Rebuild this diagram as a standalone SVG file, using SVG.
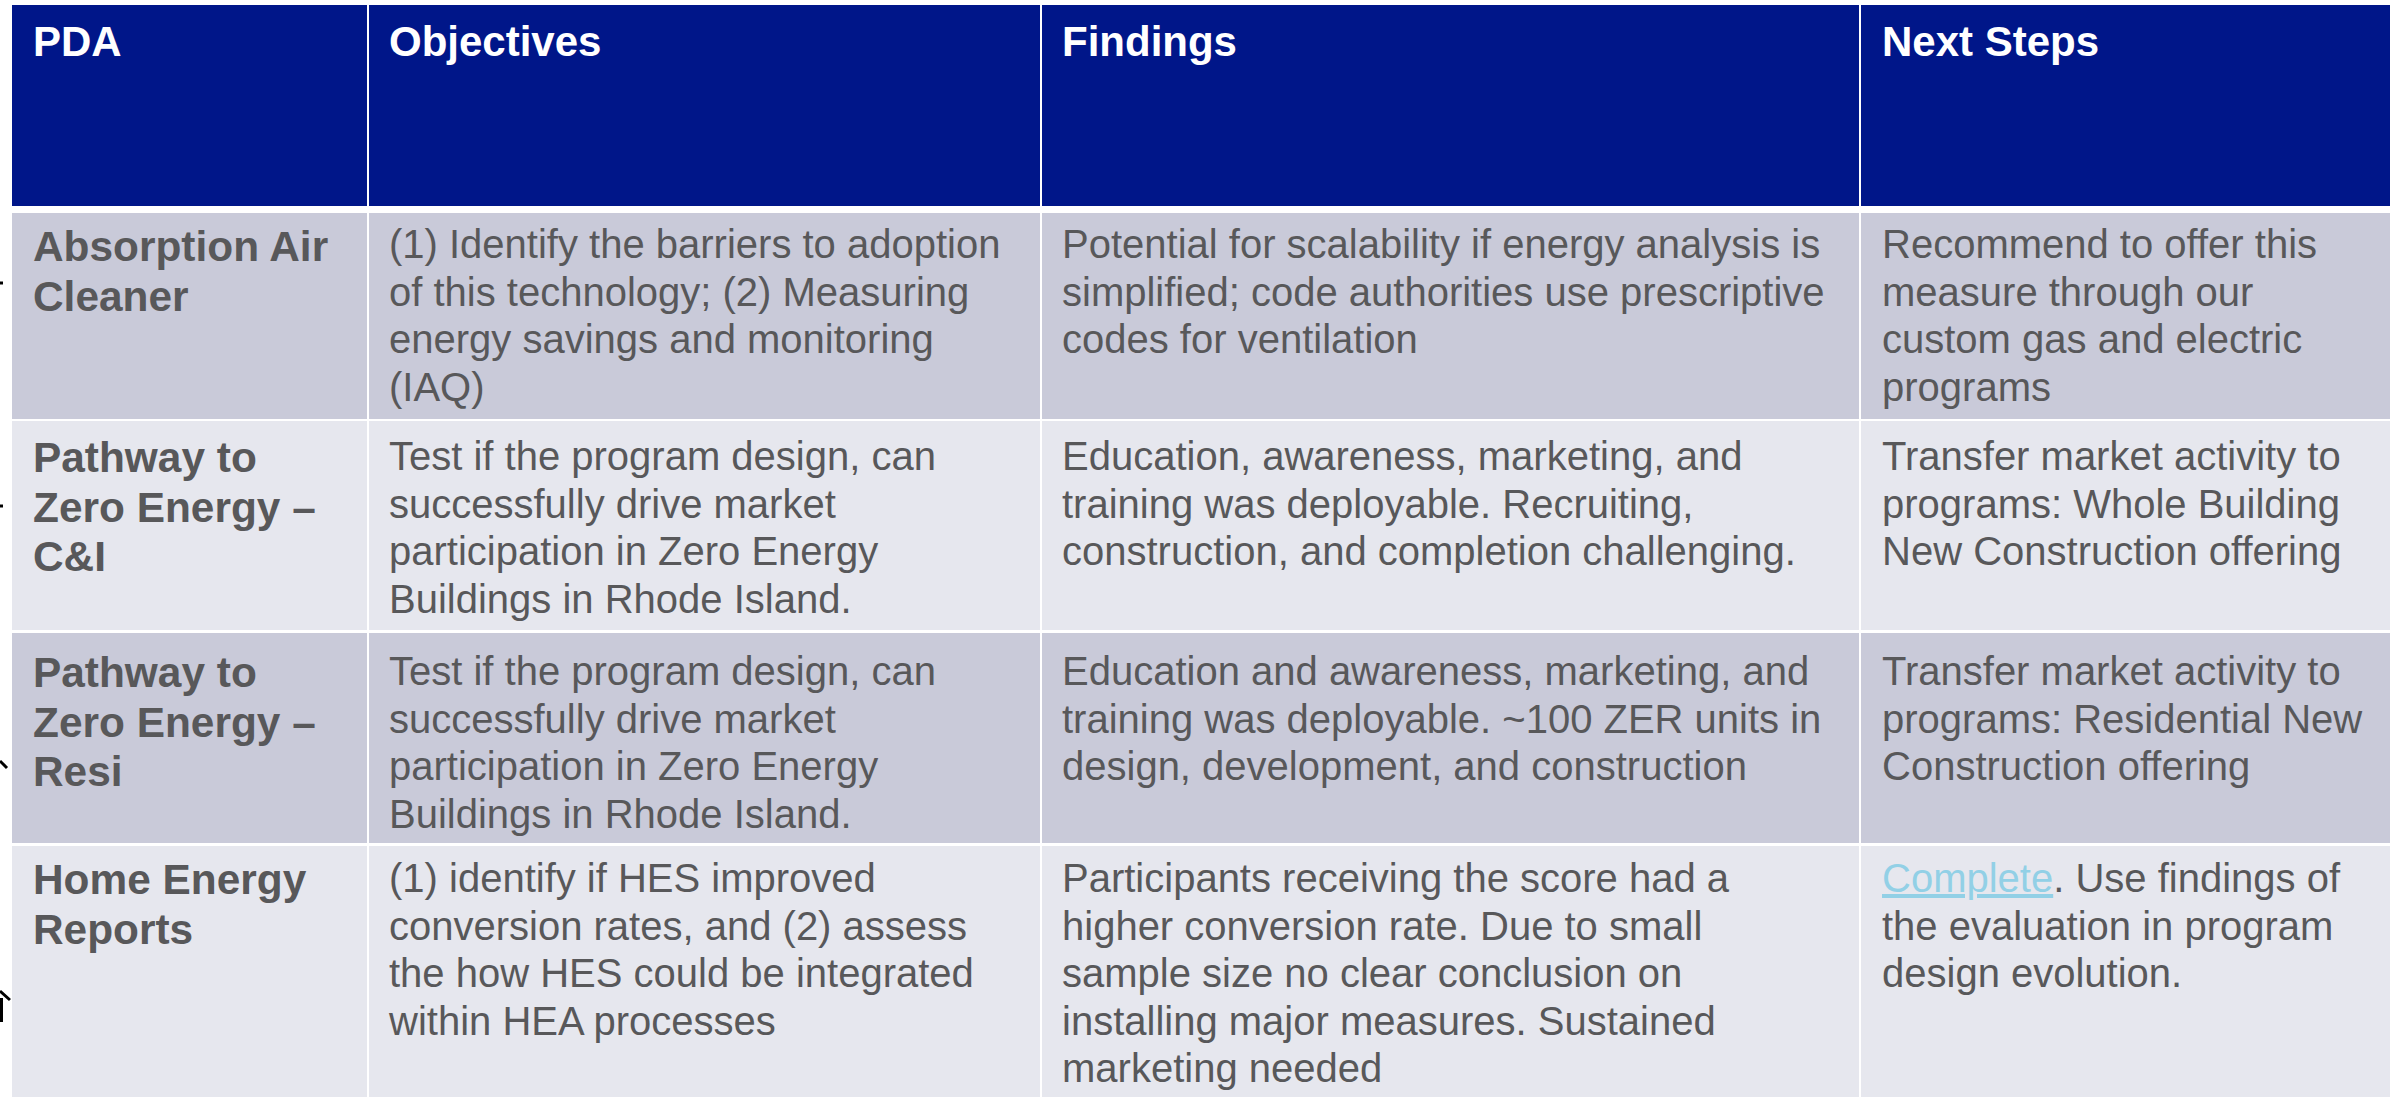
<svg xmlns="http://www.w3.org/2000/svg" width="2403" height="1097" viewBox="0 0 2403 1097">
<style>
.hdrbg{fill:#001689}
.odd{fill:#C9CAD9}
.even{fill:#E6E7EE}
.sep{fill:#FFFFFF}
.hdr{fill:#FFFFFF;font-family:"Liberation Sans",Arial,sans-serif;font-weight:bold;font-size:42px}
.lbl{fill:#58585A;font-family:"Liberation Sans",Arial,sans-serif;font-weight:bold;font-size:42.4px}
.txt{fill:#58585A;font-family:"Liberation Sans",Arial,sans-serif;font-size:40px}
.link{fill:#92D0E6;text-decoration:underline}
.mark{stroke:#000;stroke-width:3;fill:none}
</style>
<rect width="2403" height="1097" fill="#FFFFFF"/>
<g id="table-background">
<rect class="hdrbg" x="12" y="5" width="2378" height="201"/>
<rect class="odd" x="12" y="213" width="2378" height="206"/>
<rect class="even" x="12" y="421" width="2378" height="209"/>
<rect class="odd" x="12" y="633" width="2378" height="210"/>
<rect class="even" x="12" y="846" width="2378" height="251"/>
<rect class="sep" x="367" y="5" width="2" height="1092"/>
<rect class="sep" x="1040" y="5" width="2" height="1092"/>
<rect class="sep" x="1859" y="5" width="2" height="1092"/>
</g>
<g id="header">
<text class="hdr" x="33" y="56">PDA</text>
<text class="hdr" x="389" y="56">Objectives</text>
<text class="hdr" x="1062" y="56">Findings</text>
<text class="hdr" x="1882" y="56">Next Steps</text>
</g>
<g id="row-absorption-air-cleaner">
<text class="lbl" x="33" y="261"><tspan x="33">Absorption Air</tspan><tspan x="33" dy="49.5">Cleaner</tspan></text>
<text class="txt" x="389" y="258"><tspan x="389">(1) Identify the barriers to adoption</tspan><tspan x="389" dy="47.6">of this technology; (2) Measuring</tspan><tspan x="389" dy="47.6">energy savings and monitoring</tspan><tspan x="389" dy="47.6">(IAQ)</tspan></text>
<text class="txt" x="1062" y="258"><tspan x="1062">Potential for scalability if energy analysis is</tspan><tspan x="1062" dy="47.6">simplified; code authorities use prescriptive</tspan><tspan x="1062" dy="47.6">codes for ventilation</tspan></text>
<text class="txt" x="1882" y="258"><tspan x="1882">Recommend to offer this</tspan><tspan x="1882" dy="47.6">measure through our</tspan><tspan x="1882" dy="47.6">custom gas and electric</tspan><tspan x="1882" dy="47.6">programs</tspan></text>
</g>
<g id="row-pathway-ci">
<text class="lbl" x="33" y="472"><tspan x="33">Pathway to</tspan><tspan x="33" dy="49.5">Zero Energy –</tspan><tspan x="33" dy="49.5">C&amp;I</tspan></text>
<text class="txt" x="389" y="470"><tspan x="389">Test if the program design, can</tspan><tspan x="389" dy="47.6">successfully drive market</tspan><tspan x="389" dy="47.6">participation in Zero Energy</tspan><tspan x="389" dy="47.6">Buildings in Rhode Island.</tspan></text>
<text class="txt" x="1062" y="470"><tspan x="1062">Education, awareness, marketing, and</tspan><tspan x="1062" dy="47.6">training was deployable. Recruiting,</tspan><tspan x="1062" dy="47.6">construction, and completion challenging.</tspan></text>
<text class="txt" x="1882" y="470"><tspan x="1882">Transfer market activity to</tspan><tspan x="1882" dy="47.6">programs: Whole Building</tspan><tspan x="1882" dy="47.6">New Construction offering</tspan></text>
</g>
<g id="row-pathway-resi">
<text class="lbl" x="33" y="687"><tspan x="33">Pathway to</tspan><tspan x="33" dy="49.5">Zero Energy –</tspan><tspan x="33" dy="49.5">Resi</tspan></text>
<text class="txt" x="389" y="685"><tspan x="389">Test if the program design, can</tspan><tspan x="389" dy="47.6">successfully drive market</tspan><tspan x="389" dy="47.6">participation in Zero Energy</tspan><tspan x="389" dy="47.6">Buildings in Rhode Island.</tspan></text>
<text class="txt" x="1062" y="685"><tspan x="1062">Education and awareness, marketing, and</tspan><tspan x="1062" dy="47.6">training was deployable. ~100 ZER units in</tspan><tspan x="1062" dy="47.6">design, development, and construction</tspan></text>
<text class="txt" x="1882" y="685"><tspan x="1882">Transfer market activity to</tspan><tspan x="1882" dy="47.6">programs: Residential New</tspan><tspan x="1882" dy="47.6">Construction offering</tspan></text>
</g>
<g id="row-home-energy-reports">
<text class="lbl" x="33" y="894"><tspan x="33">Home Energy</tspan><tspan x="33" dy="49.5">Reports</tspan></text>
<text class="txt" x="389" y="892"><tspan x="389">(1) identify if HES improved</tspan><tspan x="389" dy="47.6">conversion rates, and (2) assess</tspan><tspan x="389" dy="47.6">the how HES could be integrated</tspan><tspan x="389" dy="47.6">within HEA processes</tspan></text>
<text class="txt" x="1062" y="892"><tspan x="1062">Participants receiving the score had a</tspan><tspan x="1062" dy="47.6">higher conversion rate. Due to small</tspan><tspan x="1062" dy="47.6">sample size no clear conclusion on</tspan><tspan x="1062" dy="47.6">installing major measures. Sustained</tspan><tspan x="1062" dy="47.6">marketing needed</tspan></text>
<text class="txt" x="1882" y="892"><tspan x="1882" class="link">Complete</tspan><tspan>. Use findings of</tspan><tspan x="1882" dy="47.6">the evaluation in program</tspan><tspan x="1882" dy="47.6">design evolution.</tspan></text>
</g>
<g id="edge-marks">
<path class="mark" stroke-width="2" stroke="#777" d="M0 283 H3"/>
<path class="mark" stroke-width="2" stroke="#777" d="M0 506 H3"/>
<path class="mark" d="M0 761 L7 768"/>
<path class="mark" d="M0 991 L10 1000 M1.5 998 V1022"/>
</g>
</svg>
